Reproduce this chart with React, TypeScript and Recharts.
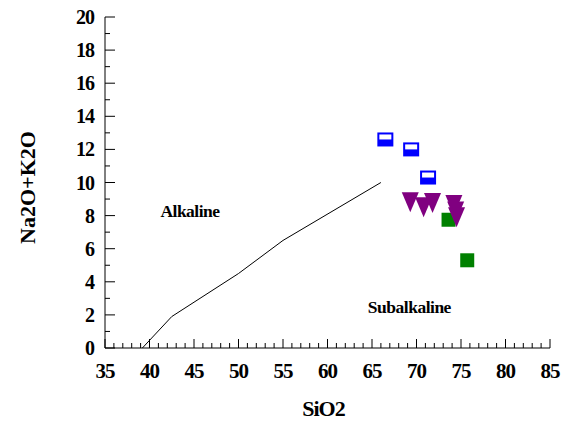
import React from 'react';
import { ScatterChart, Scatter, XAxis, YAxis, ReferenceDot, Label } from 'recharts';

const boundaryLine = [
  { x: 39.2, y: 0 },
  { x: 42.5, y: 1.9 },
  { x: 50, y: 4.5 },
  { x: 55, y: 6.5 },
  { x: 66, y: 10 },
];

const blueSamples = [
  { x: 66.5, y: 12.6 },
  { x: 69.4, y: 12.0 },
  { x: 71.3, y: 10.3 },
];

const purpleSamples = [
  { x: 69.3, y: 8.8 },
  { x: 70.8, y: 8.5 },
  { x: 71.8, y: 8.76 },
  { x: 74.2, y: 8.64 },
  { x: 74.4, y: 8.25 },
  { x: 74.5, y: 7.9 },
];

const greenSamples = [
  { x: 73.6, y: 7.75 },
  { x: 75.7, y: 5.3 },
];

const regionLabels = [
  { text: 'Alkaline', x: 44.55, y: 7.93 },
  { text: 'Subalkaline', x: 69.2, y: 2.1 },
];

const xTicks = [35, 36, 37, 38, 39, 40, 41, 42, 43, 44, 45, 46, 47, 48, 49, 50, 51, 52, 53, 54, 55, 56, 57, 58, 59, 60, 61, 62, 63, 64, 65, 66, 67, 68, 69, 70, 71, 72, 73, 74, 75, 76, 77, 78, 79, 80, 81, 82, 83, 84, 85];
const yTicks = [0, 1, 2, 3, 4, 5, 6, 7, 8, 9, 10, 11, 12, 13, 14, 15, 16, 17, 18, 19, 20];

const FONT = "'Liberation Serif', 'Times New Roman', serif";
const txt = (size: number, spacing: number) => ({
  fontFamily: FONT,
  fontSize: size,
  fontWeight: 700 as const,
  letterSpacing: spacing,
  fill: '#000',
});

const BottomTick = (props: any) => {
  const { x, y, payload } = props;
  const v = payload.value;
  const major = v % 5 === 0;
  return (
    <g>
      <line x1={x} x2={x} y1={y} y2={y - (major ? 9 : 5)} stroke="#000" strokeWidth={1} />
      {major && (
        <text x={x} y={y + 30} textAnchor="middle" style={txt(21, -1)}>
          {v}
        </text>
      )}
    </g>
  );
};

const TopTick = (props: any) => {
  const { x, y, payload } = props;
  const major = payload.value % 5 === 0;
  return <line x1={x} x2={x} y1={y} y2={y + (major ? 9 : 4)} stroke="#000" strokeWidth={1} />;
};

const LeftTick = (props: any) => {
  const { x, y, payload } = props;
  const v = payload.value;
  const major = v % 2 === 0;
  return (
    <g>
      <line x1={x} x2={x + (major ? 10 : 5)} y1={y} y2={y} stroke="#000" strokeWidth={1} />
      {major && (
        <text x={x - 11} y={y + 7} textAnchor="end" style={txt(20, -1)}>
          {v}
        </text>
      )}
    </g>
  );
};

const RightTick = (props: any) => {
  const { x, y, payload } = props;
  const major = payload.value % 2 === 0;
  return <line x1={x} x2={x - (major ? 10 : 5)} y1={y} y2={y} stroke="#000" strokeWidth={1} />;
};

const HalfSquare = (props: any) => {
  const { cx, cy } = props;
  const w = 16;
  const h = 14;
  return (
    <g>
      <rect x={cx - w / 2} y={cy - h / 2} width={w} height={h} fill="#0000FF" />
      <rect x={cx - w / 2 + 2} y={cy - h / 2 + 2} width={w - 4} height={h / 2 - 2} fill="#FFFFFF" />
    </g>
  );
};

const DownTriangle = (props: any) => {
  const { cx, cy } = props;
  const w = 17;
  const h = 20;
  return (
    <path
      d={`M${cx - w / 2},${cy - h / 2} L${cx + w / 2},${cy - h / 2} L${cx},${cy + h / 2} Z`}
      fill="#800080"
    />
  );
};

const GreenSquare = (props: any) => {
  const { cx, cy } = props;
  const s = 14;
  return <rect x={cx - s / 2} y={cy - s / 2} width={s} height={s} fill="#008000" />;
};

const NoShape = () => <g />;

export default function App() {
  return (
    <div style={{ position: 'absolute', left: 0, top: 0, background: '#fff' }}>
      <ScatterChart width={573} height={423} margin={{ top: 17, right: 23, bottom: 0, left: 0 }}>
        <XAxis
          xAxisId={0}
          type="number"
          dataKey="x"
          domain={[35, 85]}
          allowDataOverflow
          ticks={xTicks}
          interval={0}
          tickSize={0}
          tickMargin={0}
          tickLine={false}
          tick={<BottomTick />}
          axisLine={{ stroke: '#000' }}
          height={75}
        >
          <Label
            content={(p: any) => (
              <text
                x={p.viewBox.x + p.viewBox.width / 2 - 4}
                y={p.viewBox.y + 68}
                textAnchor="middle"
                style={txt(22, -1)}
              >
                SiO2
              </text>
            )}
          />
        </XAxis>
        <XAxis
          xAxisId="top"
          orientation="top"
          type="number"
          dataKey="x"
          domain={[35, 85]}
          allowDataOverflow
          ticks={xTicks}
          interval={0}
          tickSize={0}
          tickMargin={0}
          tickLine={false}
          tick={<TopTick />}
          axisLine={{ stroke: '#000' }}
          height={0}
        />
        <YAxis
          yAxisId={0}
          type="number"
          dataKey="y"
          domain={[0, 20]}
          allowDataOverflow
          ticks={yTicks}
          interval={0}
          tickSize={0}
          tickMargin={0}
          tickLine={false}
          tick={<LeftTick />}
          axisLine={{ stroke: '#000' }}
          width={105}
        >
          <Label
            content={(p: any) => {
              const cx = 27;
              const cy = p.viewBox.y + p.viewBox.height / 2 + 5;
              return (
                <text
                  x={cx}
                  y={cy}
                  transform={`rotate(-90, ${cx}, ${cy})`}
                  textAnchor="middle"
                  dominantBaseline="central"
                  style={txt(22, 0)}
                >
                  Na2O+K2O
                </text>
              );
            }}
          />
        </YAxis>
        <YAxis
          yAxisId="right"
          orientation="right"
          type="number"
          dataKey="y"
          domain={[0, 20]}
          allowDataOverflow
          ticks={yTicks}
          interval={0}
          tickSize={0}
          tickMargin={0}
          tickLine={false}
          tick={<RightTick />}
          axisLine={{ stroke: '#000' }}
          width={0}
        />
        <Scatter
          data={boundaryLine}
          xAxisId={0}
          yAxisId={0}
          line={{ stroke: '#000', strokeWidth: 1 }}
          lineType="joint"
          shape={<NoShape />}
          isAnimationActive={false}
        />
        <Scatter data={blueSamples} xAxisId={0} yAxisId={0} shape={<HalfSquare />} isAnimationActive={false} />
        <Scatter data={greenSamples} xAxisId={0} yAxisId={0} shape={<GreenSquare />} isAnimationActive={false} />
        <Scatter data={purpleSamples} xAxisId={0} yAxisId={0} shape={<DownTriangle />} isAnimationActive={false} />
        <Scatter data={[]} xAxisId="top" yAxisId="right" isAnimationActive={false} />
        {regionLabels.map((l) => (
          <ReferenceDot
            key={l.text}
            x={l.x}
            y={l.y}
            xAxisId={0}
            yAxisId={0}
            r={0}
            shape={(p: any) => (
              <text x={p.cx} y={p.cy} textAnchor="middle" style={txt(17.5, -0.5)}>
                {l.text}
              </text>
            )}
          />
        ))}
      </ScatterChart>
    </div>
  );
}
